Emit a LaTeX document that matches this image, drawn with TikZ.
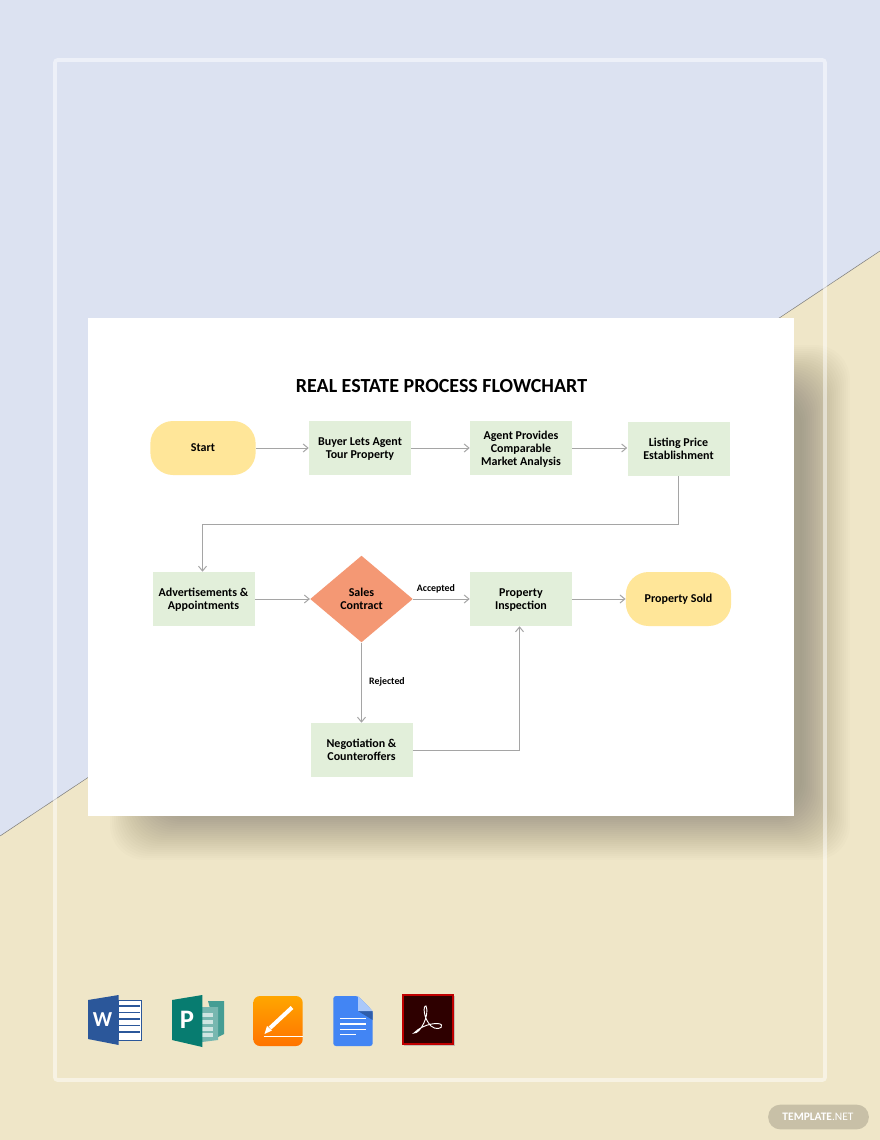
\documentclass[tikz,border=0pt]{standalone}
\usepackage{fontspec}
\setmainfont{Carlito}
\usetikzlibrary{arrows.meta,shapes.geometric}
\definecolor{bgblue}{RGB}{220,226,241}
\definecolor{bgtan}{RGB}{239,230,200}
\definecolor{stepgreen}{RGB}{226,239,218}
\definecolor{endyellow}{RGB}{255,230,153}
\definecolor{diaorange}{RGB}{244,152,116}
\definecolor{flowgray}{RGB}{165,165,165}
\definecolor{wordblue}{RGB}{43,87,154}
\definecolor{pubgreen}{RGB}{7,124,112}
\definecolor{docblue}{RGB}{66,133,244}

\begin{document}
\begin{tikzpicture}[x=0.75pt,y=-0.75pt,>={Straight Barb[length=3.6pt,width=6pt]},
    font=\bfseries\fontsize{9}{9.6}\selectfont]
  \tikzset{
    proc/.style={fill=stepgreen,minimum width=76.5pt,minimum height=40.5pt,align=center,inner sep=0pt},
    lowtext/.style={text depth=0pt},
    term/.style={fill=endyellow,minimum width=79pt,minimum height=40.5pt,rounded corners=17pt,align=center,inner sep=0pt},
    deci/.style={diamond,aspect=1.18,fill=diaorange,minimum width=77pt,minimum height=65pt,align=center,inner sep=0pt},
    flow/.style={->,draw=flowgray,line width=0.75pt},
    lbl/.style={font=\bfseries\fontsize{7.4}{8}\selectfont},
    iconline/.style={line width=1.3pt}
  }
  \useasboundingbox (0,0) rectangle (880,1140);

  % background
  \fill[bgblue] (0,0) rectangle (880,1140);
  \fill[bgtan] (0,836) -- (880,251) -- (880,1140) -- (0,1140) -- cycle;
  \draw[black!50,line width=0.4pt] (0,836) -- (880,251);

  % card with its shadow
  \foreach \grow in {50,48,...,2}
    \fill[black,opacity=0.011,rounded corners=26pt]
      (160-\grow,395-\grow) rectangle (800+\grow,810+\grow);
  \draw[white,opacity=0.5,line width=2.8pt,rounded corners=2pt] (55,60) rectangle (825,1080);
  \fill[white] (88,318) rectangle (794,816);

  \node[font=\bfseries\fontsize{15}{16}\selectfont] (title) at (441.5,386) {REAL ESTATE PROCESS FLOWCHART};

  % first row
  \node[term] (start) at (203,448) {Start};
  \node[proc,lowtext] (buyer) at (360,448) {Buyer Lets Agent\\Tour Property};
  \node[proc,lowtext] (agent) at (521,448) {Agent Provides\\Comparable\\Market Analysis};
  \node[proc] (listing) at (678.5,449) {Listing Price\\Establishment};

  % second row
  \node[proc,lowtext] (adverts) at (203.5,599) {Advertisements \&\\Appointments};
  \node[deci] (sales) at (361.5,599) {Sales\\Contract};
  \node[proc,lowtext] (inspect) at (521,599) {Property\\Inspection};
  \node[term] (sold) at (678.5,599) {Property Sold};

  \node[proc] (nego) at (361.5,750) {Negotiation \&\\Counteroffers};

  \coordinate (turn) at (202.5,524);

  \draw[flow] (start) -- (buyer);
  \draw[flow] (buyer) -- (agent);
  \draw[flow] (agent.east) -- (agent.east -| listing.west);
  \draw[flow] (listing.south) |- (turn) -- ([xshift=-0.75pt]adverts.north);
  \draw[flow] (adverts) -- (sales);
  \draw[flow] (sales) -- (inspect);
  \draw[flow] (inspect) -- (sold);
  \draw[flow] (sales) -- (nego);
  \draw[flow] (nego) -| ([xshift=-1.1pt]inspect.south);

  \node[lbl] (accepted) at (436,589) {Accepted};
  \node[lbl] (rejected) at (387,681.5) {Rejected};

  % word
  \fill[white] (118.7,1000) rectangle (141.7,1040);
  \draw[wordblue,line width=0.7pt] (118.7,1000) rectangle (141.7,1040);
  \foreach \ypos in {1006,1012.5,1019,1025.5,1032}
    \draw[wordblue,iconline] (118.7,\ypos) -- (139.5,\ypos);
  \fill[wordblue] (88,1000) -- (118.7,995) -- (118.7,1045) -- (88,1039) -- cycle;
  \node[white,font=\bfseries\fontsize{16}{18}\selectfont] (wordmark) at (102.5,1020) {W};

  % publisher
  \fill[pubgreen!75!white] (208,1001) -- (224,1001) -- (224,1034) -- (218,1037) -- cycle;
  \fill[pubgreen!55!white] (202,1007) -- (218,1007) -- (218,1040) -- (202,1042) -- cycle;
  \foreach \ypos in {1015,1022,1029,1035}
    \draw[white!80!pubgreen,line width=2.4pt] (202,\ypos) -- (213,\ypos);
  \fill[pubgreen] (172,1000) -- (202.3,995) -- (202.3,1047) -- (172,1040) -- cycle;
  \node[white,font=\bfseries\fontsize{20}{20}\selectfont] (pubmark) at (187,1020) {P};

  % pages
  \shade[top color=orange!70!yellow,bottom color=orange!90!red,rounded corners=5pt]
    (253.3,996) rectangle (302.7,1046);
  \draw[white,line width=0.9pt] (263.5,1036.7) -- (302.7,1036.7);
  \draw[white,line width=3pt] (270,1028) -- (292,1007.5);
  \fill[white] (264.5,1034) -- (267,1026) -- (272,1030.5) -- cycle;

  % docs
  \fill[docblue,rounded corners=2pt] (333.3,996) -- (358,996) -- (372.7,1011) -- (372.7,1046) -- (333.3,1046) -- cycle;
  \fill[docblue!70!black] (358,1011) -- (372.7,1011) -- (372.7,1020) -- cycle;
  \fill[docblue!45!white] (358,996) -- (372.7,1011) -- (358,1011) -- cycle;
  \foreach \ypos/\xend in {1018.3/366,1024/366,1029.3/366,1034.3/356}
    \draw[white,line width=1pt] (340,\ypos) -- (\xend,\ypos);

  % acrobat
  \fill[black!35,opacity=0.6] (404,996) rectangle (455,1046);
  \fill[black!70!red!60!black,draw=red!75!black,line width=1.5pt] (403,995) rectangle (453,1043.5);
  \draw[white,line width=0.7pt] (414,1033) .. controls (420,1034) and (430,1015) .. (426,1006)
    .. controls (423,1005) and (423,1018) .. (431,1026)
    .. controls (435,1030) and (443,1029) .. (441.5,1025)
    .. controls (440,1022) and (424,1023) .. (414,1033) -- cycle;

  % badge
  \node[fill=black!45!bgtan,opacity=0.36,text opacity=1,rounded corners=9pt,minimum width=75.5pt,minimum height=18.5pt,inner sep=0pt] (badge) at (818.5,1117) {};
  \node[white,font=\fontsize{8.6}{10}\selectfont] (badgetext) at (818,1117) {\textbf{TEMPLATE}.NET};
\end{tikzpicture}
\end{document}
